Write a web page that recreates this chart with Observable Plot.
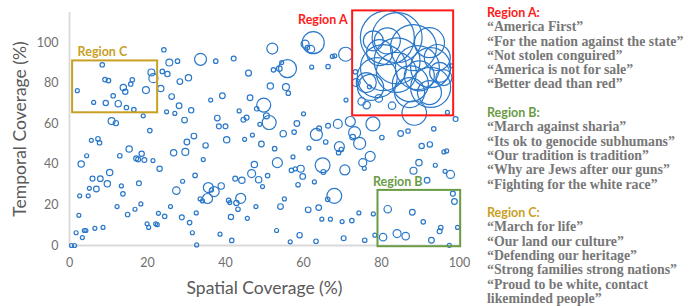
<!DOCTYPE html>
<html><head><meta charset="utf-8">
<script src="https://cdn.jsdelivr.net/npm/d3@7"></script>
<script src="https://cdn.jsdelivr.net/npm/@observablehq/plot@0.6"></script>
<style>
body{margin:0;background:#fff;}
#wrap{position:relative;width:691px;height:306px;overflow:hidden;}
#notes{position:absolute;left:487px;top:6px;line-height:14.3px;font-family:"Liberation Serif",serif;font-weight:bold;font-size:13.8px;color:#777777;white-space:nowrap;}
#notes .h{font-family:Lato,sans-serif;font-size:12.5px;font-weight:bold;}
</style></head><body><div id="wrap"><div id="notes"></div></div>
<script>
// Bubble data: spatial coverage (%), temporal coverage (%), volume
const spatial = [24.2,25.6,27.7,33.6,8.4,21.0,21.5,23.8,25.1,9.1,10.0,16.1,15.7,13.8,14.3,19.6,23.4,28.3,30.5,2.0,11.2,26.2,6.2,9.3,12.5,14.6,16.5,28.1,24.9,27.0,31.2,18.9,10.8,11.9,29.5,20.6,
31.9,5.6,7.3,7.7,30.1,15.3,12.9,18.5,17.1,17.6,19.2,21.4,26.7,29.7,4.4,3.0,23.1,10.3,5.9,7.9,9.7,5.1,6.9,13.3,17.8,29.0,32.2,27.4,2.6,4.8,13.7,12.2,16.8,18.3,14.9,2.4,22.8,24.4,25.9,28.8,32.5,30.8,19.9,20.3,22.1,22.5,3.8,4.2,6.5,8.6,1.7,3.3,31.5,0.5,1.3,32.6,
62.5,60.4,61.0,61.9,52.0,37.5,42.1,55.9,54.4,53.8,52.3,62.1,66.3,45.9,51.5,55.5,56.1,39.2,36.2,46.3,49.8,48.0,43.5,44.6,45.4,50.5,51.2,37.9,60.0,58.3,48.8,38.3,40.0,64.0,66.3,
54.8,57.6,46.9,40.3,44.9,49.2,52.6,34.9,63.3,65.7,61.4,34.3,57.3,53.3,47.4,46.7,48.5,42.5,44.2,50.8,49.5,56.9,57.9,59.3,59.8,58.6,62.8,64.9,65.1,35.6,37.1,35.4,36.4,38.9,33.5,34.1,43.9,40.8,41.1,42.8,43.2,47.8,55.1,54.1,61.2,63.9,66.2,41.4,45.6,64.7,53.1,38.6,59.0,41.6,56.6,63.2,
73.1,74.4,72.6,69.2,69.7,69.0,77.1,75.2,75.6,70.6,67.9,84.9,86.8,93.4,80.1,90.3,92.4,96.0,96.7,97.7,89.6,93.8,96.3,88.2,91.7,66.9,69.9,72.4,74.2,77.9,70.3,75.7,78.3,80.4,81.6,87.9,90.7,84.0,86.2,92.8,95.2,94.9,99.5,97.4,98.3,98.7,
70.8,67.4,68.0,73.3,73.5,70.9,68.8,72.0,77.8,99.0,96.9,74.9,76.2,79.3,82.7,88.4,97.9,76.9,
84.0,81.5,88.2,92.6,80.5,87.4,92.6,77.2,94.3,81.5,78.9,84.0,89.2,96.0,77.9,
79.5,92.3,83.8,89.7,94.9,76.1,87.2,92.3];
const temporal = [96.6,90.3,91.0,91.9,89.2,85.4,82.6,85.9,84.6,81.9,81.4,81.8,79.7,78.0,75.9,76.7,77.5,80.9,82.8,76.4,73.9,73.5,70.6,70.3,70.0,68.1,67.1,69.0,66.0,65.2,66.7,64.0,61.4,60.4,61.9,56.7,
54.0,51.9,52.7,50.7,51.1,47.6,44.3,45.3,43.0,42.5,42.2,41.9,45.8,46.2,44.3,40.2,37.9,36.0,33.0,33.0,30.5,28.2,27.9,29.4,30.7,31.7,34.6,27.1,24.5,24.5,25.5,19.2,17.9,20.5,15.3,14.9,15.9,14.4,19.2,13.9,16.1,11.3,10.7,8.9,10.7,10.3,7.4,7.4,8.5,8.9,6.3,3.9,6.3,0,0,0.3,
100.1,99.4,97.7,96.9,97.2,91.0,92.3,87.3,90.3,87.3,86.7,88.0,88.3,85.1,78.7,78.2,75.2,73.9,71.8,72.9,69.3,67.5,66.4,62.1,63.1,64.0,60.7,62.9,65.0,60.2,59.8,58.8,58.8,57.8,59.1,
55.2,56.0,54.5,52.2,52.4,50.1,47.8,49.4,54.8,51.1,48.1,42.4,43.7,40.9,40.0,35.5,32.5,33.0,32.2,34.5,29.1,37.1,37.8,37.9,34.1,30.0,31.4,39.6,36.3,28.6,26.6,23.2,27.4,29.4,23.0,22.0,23.3,22.3,21.2,21.0,17.9,19.2,23.0,19.2,17.6,18.7,22.8,14.1,13.4,13.0,7.4,5.6,5.1,2.5,1.8,2.1,
55.7,50.4,53.5,48.8,47.4,45.8,44.0,40.9,38.1,37.3,24.5,55.3,56.5,57.6,53.3,49.1,49.9,46.2,46.7,35.1,40.9,39.6,36.6,36.9,32.2,13.0,11.8,12.3,16.1,15.6,3.6,2.6,5.1,4.1,17.9,16.4,11.7,5.9,4.6,2.6,8.9,7.0,8.9,0.1,25.6,21.7,
94.4,93.3,93.6,85.7,80.4,71.8,60.0,61.2,60.0,62.4,65.7,71.1,69.3,72.6,69.0,65.4,88.7,78.3,
102.6,102.6,97.7,87.8,87.8,79.8,78.0,78.0,92.8,101.0,82.9,91.1,87.8,82.9,101.0,
95.2,100.1,85.4,83.7,85.4,80.4,75.5,75.5];
const volume = [5,12,5,36,5,12,20,5,7,5,5,5,5,10,7,12,10,8,10,4,5,8,4,7,10,5,5,8,4,4,7,4,12,7,8,5,
8,4,5,5,8,10,5,7,6,6,6,4,10,12,4,10,7,10,6,8,10,4,8,4,6,4,5,14,4,4,5,4,4,4,5,4,4,5,4,6,4,5,4,4,4,4,4,4,4,4,4,4,4,4,4,4,
121,16,5,14,30,5,6,81,4,8,5,4,5,9,10,12,5,8,4,8,49,5,4,6,6,9,49,8,4,8,4,6,6,6,6,
10,5,4,10,4,8,5,7,36,5,4,4,4,25,10,16,10,6,10,5,4,5,4,12,8,5,4,55,6,25,25,25,4,10,4,4,25,5,4,7,5,4,4,8,8,8,5,7,4,4,4,4,7,5,4,5,
36,36,8,25,5,5,25,16,4,25,55,8,5,5,5,7,7,4,4,16,10,4,4,12,8,4,4,5,4,4,6,5,4,14,14,8,5,16,14,8,5,6,4,4,6,8,
49,4,4,5,16,4,20,25,49,6,4,14,14,14,14,150,4,4,
625,729,529,400,529,324,400,169,169,169,400,529,484,64,100,
169,225,400,225,100,100,225,144];

const ticks = [0, 20, 40, 60, 80, 100];
const xTitle = "Spatial Coverage (%)";
const yTitle = "Temporal Coverage (%)";

const regionNames = ["Region A", "Region B", "Region C"];
const regionX1 = [72.6, 79.1, 0.8];
const regionX2 = [98.5, 100.3, 22.6];
const regionY1 = [64.0, -0.6, 65.5];
const regionY2 = [115.8, 27.2, 91.1];
const regionColors = ["#FF1A1A", "#6A9B45", "#C9A023"];

const quotesA = ["“America First”", "“For the nation against the state”", "“Not stolen conguired”", "“America is not for sale”", "“Better dead than red”"];
const quotesB = ["“March against sharia”", "“Its ok to genocide subhumans”", "“Our tradition is tradition”", "“Why are Jews after our guns”", "“Fighting for the white race”"];
const quotesC = ["“March for life”", "“Our land our culture”", "“Defending our heritage”", "“Strong families strong nations”", "“Proud to be white, contact", "likeminded people”"];

const data = spatial.map((x, i) => ({x, y: temporal[i], v: volume[i]}));
const regions = regionNames.map((name, i) => ({name, x1: regionX1[i], x2: regionX2[i], y1: regionY1[i], y2: regionY2[i], color: regionColors[i]}));

const sans = "Lato, 'Open Sans', sans-serif";
const labelOffsets = [
  {textAnchor: "end", dx: -5, dy: 9.5},
  {textAnchor: "start", dx: -5, dy: -8},
  {textAnchor: "start", dx: 5, dy: -9}
];

const chart = Plot.plot({
  width: 691, height: 306,
  marginLeft: 69, marginRight: 232, marginTop: 12, marginBottom: 61,
  style: {fontFamily: sans, background: "transparent", overflow: "visible", color: "#707070"},
  x: {domain: [0, 100]},
  y: {domain: [0, 115]},
  r: {type: "sqrt", domain: [0, 900], range: [0, 30]},
  marks: [
    Plot.ruleX([0], {stroke: "#d9d9d9", strokeWidth: 1.8}),
    Plot.ruleY([0], {stroke: "#d9d9d9", strokeWidth: 1.8}),
    Plot.axisX({ticks, tickSize: 0, tickPadding: 13, fontSize: 12.5, label: null}),
    Plot.axisY({ticks, tickSize: 0, tickPadding: 11, fontSize: 12.5, label: null}),
    Plot.dot(data, {x: "x", y: "y", r: "v", stroke: "#2A78C9", strokeWidth: 1.2, fill: "none"}),
    ...regions.map(d => Plot.rect([d], {x1: "x1", x2: "x2", y1: "y1", y2: "y2", stroke: d.color, strokeWidth: 2, fill: "none"})),
    ...regions.map((d, i) => Plot.text([d], {x: "x1", y: "y2", text: "name", fill: d.color, fontWeight: "bold", fontSize: 12.5, lineAnchor: "middle", ...labelOffsets[i]})),
    Plot.text([yTitle], {frameAnchor: "left", textAnchor: "middle", rotate: -90, dx: -49, dy: 0, fontSize: 17.5, fill: "#595959", lineAnchor: "middle"}),
    Plot.text([xTitle], {frameAnchor: "bottom", textAnchor: "middle", dy: 43, fontSize: 17.5, fill: "#595959", lineAnchor: "middle"})
  ]
});
document.getElementById("wrap").prepend(chart);

const notes = document.getElementById("notes");
const blocks = [[regionNames[0], quotesA], [regionNames[1], quotesB], [regionNames[2], quotesC]];
blocks.forEach(([name, lines], i) => {
  const h = document.createElement("div");
  h.className = "h";
  h.textContent = name + ":";
  h.style.color = regionColors[i];
  notes.appendChild(h);
  lines.forEach(t => { const l = document.createElement("div"); l.textContent = t; notes.appendChild(l); });
  if (i < blocks.length - 1) { const b = document.createElement("div"); b.innerHTML = "&nbsp;"; notes.appendChild(b); }
});
</script>
</body></html>
